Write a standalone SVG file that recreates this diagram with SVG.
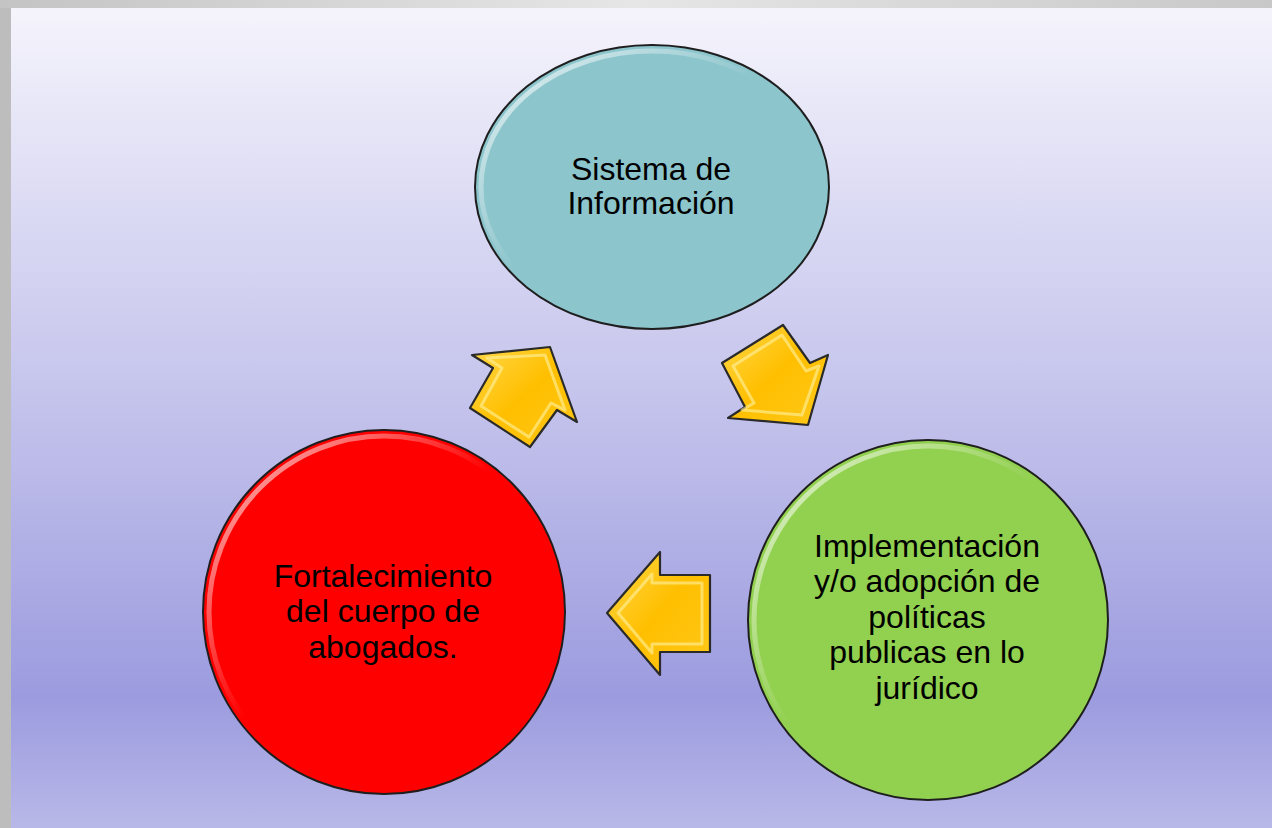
<svg xmlns="http://www.w3.org/2000/svg" width="1272" height="828" viewBox="0 0 1272 828">
<defs>
<linearGradient id="bg" x1="0" y1="0" x2="0" y2="1">
<stop offset="0" stop-color="#f5f4fc"/>
<stop offset="0.24" stop-color="#dcdbf4"/>
<stop offset="0.5" stop-color="#c2c1eb"/>
<stop offset="0.84" stop-color="#9c9bdf"/>
<stop offset="1" stop-color="#b8b8e8"/>
</linearGradient>
<linearGradient id="frame" x1="0" y1="0" x2="1" y2="0">
<stop offset="0" stop-color="#c4c4c4"/>
<stop offset="0.5" stop-color="#e6e6e6"/>
<stop offset="1" stop-color="#c8c8c8"/>
</linearGradient>
<linearGradient id="rim" x1="0" y1="0" x2="1" y2="1">
<stop offset="0" stop-color="#ffffff" stop-opacity="0.8"/>
<stop offset="0.45" stop-color="#ffffff" stop-opacity="0"/>
<stop offset="1" stop-color="#ffffff" stop-opacity="0"/>
</linearGradient>
<linearGradient id="arrowFill" x1="0" y1="0" x2="1" y2="1">
<stop offset="0" stop-color="#ffd84a"/>
<stop offset="0.5" stop-color="#ffbf00"/>
<stop offset="1" stop-color="#ffc81a"/>
</linearGradient>
<style>
.circ { stroke: #1e1e1e; stroke-width: 2; }
.rim { fill: none; stroke: url(#rim); stroke-width: 5; }
.arrow { fill: url(#arrowFill); stroke: #2a2a2a; stroke-width: 2.2; stroke-linejoin: round; }
.arrowHi { fill: none; stroke: #fff2a0; stroke-opacity: 0.6; stroke-width: 3; stroke-linejoin: round; }
.lbl { font-family: "Liberation Sans", Arial, sans-serif; font-size: 32px; fill: #000; text-anchor: middle; }
</style>
</defs>
<rect x="0" y="0" width="1272" height="828" fill="#bdbdbd"/>
<rect x="0" y="0" width="1272" height="8" fill="url(#frame)"/>
<rect x="11" y="8" width="1261" height="820" fill="url(#bg)"/>

<g id="connectors">
<g id="arrow-up">
<polygon class="arrow" points="550,347 577,422 557,410 530,447 470,408 493,368 472,355"/>
<polygon class="arrowHi" points="545,355 565,410 551,403 529,437 481,406 502,368 487,358"/>
</g>
<g id="arrow-down">
<polygon class="arrow" points="783,325 810,363 828,355 808,425 728,418 745,407 722,363"/>
<polygon class="arrowHi" points="782,335 806,371 819,366 802,415 742,410 754,403 733,366"/>
</g>
<g id="arrow-left">
<polygon class="arrow" points="607,613 660,552 660,575 710,575 710,652 660,652 660,675"/>
<polygon class="arrowHi" points="618,613 652,574 652,583 702,583 702,644 652,644 652,653"/>
</g>
</g>

<g id="node-sistema">
<ellipse class="circ" cx="652" cy="187" rx="177" ry="142" fill="#8cc5cc"/>
<ellipse class="rim" cx="652" cy="187" rx="171" ry="136"/>
<text class="lbl" x="651" y="180">Sistema de</text>
<text class="lbl" x="651" y="214">Información</text>
</g>

<g id="node-implementacion">
<circle class="circ" cx="928" cy="620" r="180" fill="#92d050"/>
<circle class="rim" cx="928" cy="620" r="174"/>
<text class="lbl" x="927" y="557">Implementación</text>
<text class="lbl" x="927" y="592">y/o adopción de</text>
<text class="lbl" x="927" y="628">políticas</text>
<text class="lbl" x="927" y="663">publicas en lo</text>
<text class="lbl" x="927" y="699">jurídico</text>
</g>

<g id="node-fortalecimiento">
<ellipse class="circ" cx="384" cy="612" rx="181" ry="182" fill="#ff0000"/>
<ellipse class="rim" cx="384" cy="612" rx="175" ry="176"/>
<text class="lbl" x="383" y="587">Fortalecimiento</text>
<text class="lbl" x="383" y="622">del cuerpo de</text>
<text class="lbl" x="383" y="658">abogados.</text>
</g>
</svg>
